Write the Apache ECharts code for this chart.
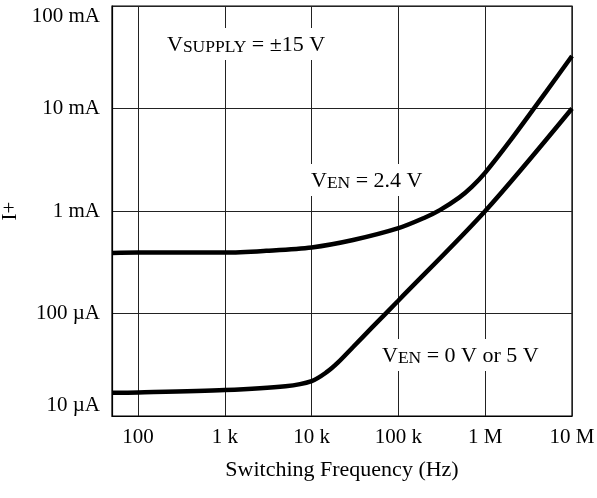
<!DOCTYPE html>
<html>
<head>
<meta charset="utf-8">
<script src="https://cdn.jsdelivr.net/npm/echarts@6.0.0/dist/echarts.min.js"></script>
<style>
  html, body { margin: 0; padding: 0; background: #fff; }
</style>
</head>
<body>
<div id="chart" style="width: 597px; height: 498px"></div>
<script>
// switching frequency (Hz) and supply current (uA)
const freqEn24 = [50, 100, 1000, 3000, 10000, 30000, 100000, 200000, 300000, 500000, 700000, 1000000, 2000000, 5000000, 10000000];
const currentEn24 = [390, 393, 393, 409, 441, 521, 680, 860, 1020, 1350, 1720, 2370, 5020, 14450, 32500];

const freqEn0 = [50, 100, 1000, 5000, 10000, 15000, 20000, 30000, 50000, 100000, 1000000, 10000000];
const currentEn0 = [16.9, 17, 17.9, 19.5, 21.9, 26.9, 33.1, 47.1, 73.6, 134, 1000, 10000];

const xTickLabels = ["100", "1 k", "10 k", "100 k", "1 M", "10 M"];
const yTickLabels = ["10 µA", "100 µA", "1 mA", "10 mA", "100 mA"];

const font = "'Liberation Serif', 'Times New Roman', serif";

const chartInstance = echarts.init(document.getElementById("chart"));

const toPairs = (xs, ys) => xs.map((x, i) => [x, ys[i]]);

// text box with subscript, white background breaks the grid lines
const note = (left, top, parts) => ({
  type: "text",
  left: left,
  top: top,
  z: 100,
  style: {
    text: parts.map((p) => "{" + p[0] + "|" + p[1] + "}").join(""),
    backgroundColor: "#fff",
    padding: [4, 4],
    rich: {
      m: { fontFamily: font, fontSize: 22, color: "#000", lineHeight: 24, verticalAlign: "bottom" },
      s: { fontFamily: font, fontSize: 17.5, color: "#000", lineHeight: 10, verticalAlign: "bottom" },
    },
  },
});

const option = {
  animation: false,
  grid: {
    left: 112,
    right: 25,
    top: 6,
    bottom: 82,
    outerBoundsMode: "none",
    show: true,
    borderColor: "#000",
    borderWidth: 1.2,
  },
  xAxis: {
    type: "log",
    logBase: 10,
    min: 50,
    max: 10000000,
    name: "Switching Frequency (Hz)",
    nameLocation: "middle",
    nameGap: 43,
    nameTextStyle: { fontFamily: font, fontSize: 22, color: "#000" },
    axisLine: { show: true, lineStyle: { color: "#000", width: 1.2 } },
    axisTick: { show: false },
    axisLabel: {
      fontFamily: font,
      fontSize: 21,
      color: "#000",
      margin: 11,
      formatter: (v) => {
        if (v < 90) return "";
        return xTickLabels[Math.round(Math.log10(v)) - 2] || "";
      },
    },
    splitLine: { show: true, lineStyle: { color: "#222", width: 1 } },
  },
  yAxis: {
    type: "log",
    logBase: 10,
    min: 10,
    max: 100000,
    name: "I+",
    nameLocation: "middle",
    nameGap: 84,
    nameTextStyle: { fontFamily: font, fontSize: 21, color: "#000" },
    axisLine: { show: true, lineStyle: { color: "#000", width: 1.2 } },
    axisTick: { show: false },
    axisLabel: {
      fontFamily: font,
      fontSize: 21,
      color: "#000",
      margin: 12,
      verticalAlignMinLabel: "bottom",
      verticalAlignMaxLabel: "top",
      formatter: (v) => yTickLabels[Math.round(Math.log10(v)) - 1] || "",
    },
    splitLine: { show: true, lineStyle: { color: "#222", width: 1 } },
  },
  series: [
    {
      name: "VEN = 2.4 V",
      type: "line",
      data: toPairs(freqEn24, currentEn24),
      showSymbol: false,
      smooth: 0.3,
      lineStyle: { color: "#000", width: 4.5 },
    },
    {
      name: "VEN = 0 V or 5 V",
      type: "line",
      data: toPairs(freqEn0, currentEn0),
      showSymbol: false,
      smooth: 0.3,
      lineStyle: { color: "#000", width: 4.5 },
    },
  ],
  graphic: [
    note(163, 28, [["m", "V"], ["s", "SUPPLY"], ["m", " = ±15 V"]]),
    note(307, 164, [["m", "V"], ["s", "EN"], ["m", " = 2.4 V"]]),
    note(378, 339, [["m", "V"], ["s", "EN"], ["m", " = 0 V or 5 V"]]),
  ],
};

chartInstance.setOption(option);
</script>
</body>
</html>
